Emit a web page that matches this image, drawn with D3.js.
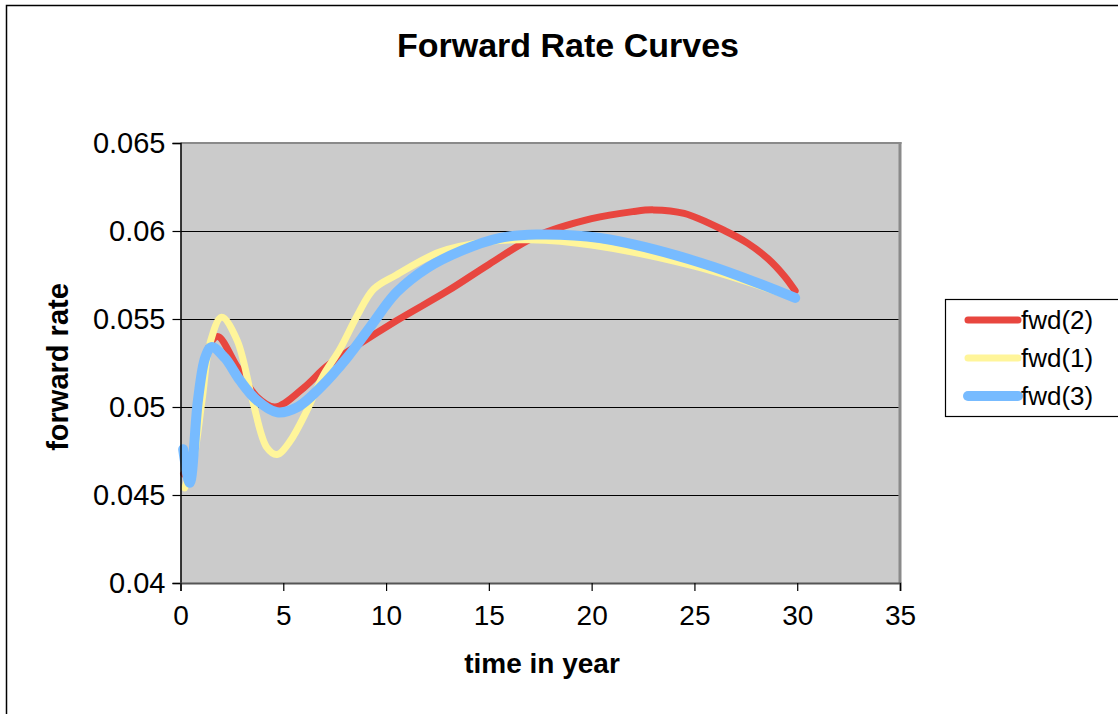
<!DOCTYPE html>
<html>
<head>
<meta charset="utf-8">
<script src="https://cdn.jsdelivr.net/npm/d3@7"></script>
<style>
  html, body { margin: 0; padding: 0; background: #fff; }
  svg { display: block; font-family: "Liberation Sans", Arial, sans-serif; }
</style>
</head>
<body>
<svg id="chart" width="1118" height="714"></svg>
<script>
// Forward rate curves: time (years) vs forward rate
const fwd2Time = [0.15, 0.45, 0.85, 1.3, 1.8, 2.75, 3.7, 4.6, 6.0, 7.1, 8.6, 10.5, 13, 15, 17.3, 20, 22, 23, 24.5, 26.5, 27.6, 28.6, 29.4, 29.9];
const fwd2Rate = [0.0462, 0.0466, 0.0505, 0.0532, 0.0540, 0.0523, 0.0506, 0.0500, 0.0511, 0.0523, 0.0535, 0.0549, 0.0566, 0.0581, 0.0597, 0.0607, 0.0611, 0.0612, 0.0610, 0.0600, 0.0593, 0.0584, 0.0574, 0.0566];

const fwd1Time = [0.2, 0.6, 1.05, 1.43, 2.0, 2.75, 3.5, 4.2, 4.7, 5.3, 6.15, 6.9, 7.76, 8.6, 9.4, 10.5, 12.6, 15, 17, 20, 25, 29.9];
const fwd1Rate = [0.0454, 0.0468, 0.0504, 0.0536, 0.0551, 0.0538, 0.0504, 0.0477, 0.0473, 0.0480, 0.0498, 0.0517, 0.0533, 0.0552, 0.0567, 0.0575, 0.0588, 0.0594, 0.0595, 0.0592, 0.0580, 0.0562];

const fwd3Time = [0.13, 0.45, 0.85, 1.2, 1.5, 2.15, 2.9, 3.7, 4.7, 5.7, 6.8, 8.1, 9.2, 10.5, 12, 13.7, 15.5, 17.3, 20.4, 25.3, 29.9];
const fwd3Rate = [0.0476, 0.0457, 0.0504, 0.0528, 0.0534, 0.0528, 0.0515, 0.0504, 0.0497, 0.0500, 0.0511, 0.0528, 0.0545, 0.0565, 0.0579, 0.0589, 0.0596, 0.0598, 0.0596, 0.0582, 0.0562];

const xTicks = [0, 5, 10, 15, 20, 25, 30, 35];
const yTicks = [0.04, 0.045, 0.05, 0.055, 0.06, 0.065];
const yTickLabels = ["0.04", "0.045", "0.05", "0.055", "0.06", "0.065"];

const series = [
  { name: "fwd(2)", time: fwd2Time, rate: fwd2Rate, color: "#e8463f", width: 7 },
  { name: "fwd(1)", time: fwd1Time, rate: fwd1Rate, color: "#fff59a", width: 7 },
  { name: "fwd(3)", time: fwd3Time, rate: fwd3Rate, color: "#77bbff", width: 10 }
];

const FONT = "'Liberation Sans', Arial, sans-serif";
const svg = d3.select("#chart");

// outer chart frame
svg.append("rect")
  .attr("x", 6.5).attr("y", 5.5)
  .attr("width", 1200).attr("height", 800)
  .attr("fill", "#fff").attr("stroke", "#000").attr("stroke-width", 1.5);

const plot = { left: 180.5, right: 900, top: 143, bottom: 583 };

const x = d3.scaleLinear().domain([0, 35]).range([plot.left, plot.right]);
const y = d3.scaleLinear().domain([0.04, 0.065]).range([plot.bottom, plot.top]);

// plot area background
svg.append("rect")
  .attr("x", plot.left).attr("y", plot.top)
  .attr("width", plot.right - plot.left).attr("height", plot.bottom - plot.top)
  .attr("fill", "#cbcbcb");

// top and right borders of plot area
svg.append("line")
  .attr("x1", plot.left).attr("x2", plot.right + 1.5)
  .attr("y1", plot.top).attr("y2", plot.top)
  .attr("stroke", "#8a8a8a").attr("stroke-width", 2);
svg.append("line")
  .attr("x1", plot.right).attr("x2", plot.right)
  .attr("y1", plot.top - 1).attr("y2", plot.bottom)
  .attr("stroke", "#8a8a8a").attr("stroke-width", 3);

// horizontal gridlines
svg.append("g")
  .selectAll("line")
  .data(yTicks.slice(1, -1))
  .join("line")
  .attr("x1", plot.left).attr("x2", plot.right - 1.5)
  .attr("y1", d => Math.round(y(d)) + 0.5).attr("y2", d => Math.round(y(d)) + 0.5)
  .attr("stroke", "#000").attr("stroke-width", 1.2);

// curves
const line = d3.line()
  .x(d => x(d[0]))
  .y(d => y(d[1]))
  .curve(d3.curveCatmullRom.alpha(0.5));

svg.append("g")
  .selectAll("path")
  .data(series)
  .join("path")
  .attr("d", s => line(s.time.map((t, i) => [t, s.rate[i]])))
  .attr("fill", "none")
  .attr("stroke", s => s.color)
  .attr("stroke-width", s => s.width)
  .attr("stroke-linecap", "round")
  .attr("stroke-linejoin", "round");

// axes
const yAxis = d3.axisLeft(y)
  .tickValues(yTicks)
  .tickFormat((d, i) => yTickLabels[i])
  .tickSize(8)
  .tickPadding(7);
const gy = svg.append("g")
  .attr("transform", `translate(${plot.left},0)`)
  .call(yAxis);
gy.attr("font-size", null).attr("font-family", null);
gy.select(".domain").attr("stroke", "#000").attr("stroke-width", 1.5);
gy.selectAll(".tick line").attr("stroke", "#000").attr("stroke-width", 1.2);
gy.selectAll(".tick text")
  .style("font-size", "29px").style("font-family", FONT).attr("fill", "#000");

const xAxis = d3.axisBottom(x)
  .tickValues(xTicks)
  .tickFormat(d3.format("d"))
  .tickSize(8)
  .tickPadding(14);
const gx = svg.append("g")
  .attr("transform", `translate(0,${plot.bottom})`)
  .call(xAxis);
gx.attr("font-size", null).attr("font-family", null);
gx.select(".domain").attr("stroke", "#555").attr("stroke-width", 2);
gx.selectAll(".tick line").attr("stroke", "#000").attr("stroke-width", 1.2);
gx.selectAll(".tick text")
  .style("font-size", "28px").style("font-family", FONT).attr("fill", "#000");

// title and axis titles
svg.append("text")
  .attr("x", 568).attr("y", 57)
  .attr("text-anchor", "middle")
  .style("font-size", "34px").attr("font-weight", "bold")
  .text("Forward Rate Curves");

svg.append("text")
  .attr("x", 542).attr("y", 673)
  .attr("text-anchor", "middle")
  .style("font-size", "28px").attr("font-weight", "bold")
  .text("time in year");

svg.append("text")
  .attr("transform", "translate(68,367) rotate(-90)")
  .attr("text-anchor", "middle")
  .style("font-size", "29px").attr("font-weight", "bold")
  .text("forward rate");

// legend
const legend = svg.append("g");
legend.append("rect")
  .attr("x", 945.5).attr("y", 299.5)
  .attr("width", 200).attr("height", 117)
  .attr("fill", "#fff").attr("stroke", "#000").attr("stroke-width", 1.2);

const rowY = [320, 358, 396];
const items = legend.selectAll("g.item")
  .data(series)
  .join("g")
  .attr("class", "item")
  .attr("transform", (s, i) => `translate(0,${rowY[i]})`);
items.append("line")
  .attr("x1", 968).attr("x2", 1018)
  .attr("y1", 0).attr("y2", 0)
  .attr("stroke", s => s.color)
  .attr("stroke-width", s => s.width)
  .attr("stroke-linecap", "round");
items.append("text")
  .attr("x", 1021).attr("y", 9)
  .style("font-size", "26px")
  .text(s => s.name);
</script>
</body>
</html>
